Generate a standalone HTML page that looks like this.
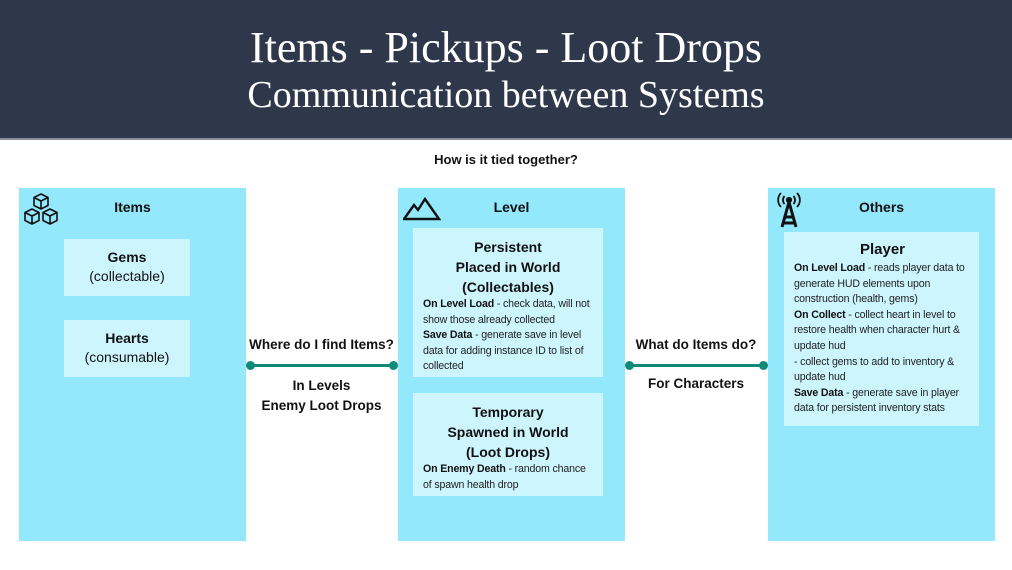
<!DOCTYPE html>
<html><head><meta charset="utf-8"><style>
*{margin:0;padding:0;box-sizing:border-box}
body{width:1012px;height:570px;position:relative;background:#fff;font-family:"Liberation Sans",Arial,sans-serif;color:#111;overflow:hidden}
.hdr{position:absolute;left:0;top:0;width:1012px;height:140px;background:#2f374a;border-bottom:2px solid #8a8f99}
.t1,.t2{position:absolute;left:0;width:1012px;text-align:center;color:#fff;font-family:"Liberation Serif",serif}
.t1{top:21px;font-size:44px;line-height:54px}
.t2{top:72px;font-size:38px;line-height:46px}
.a{position:absolute}
.panel{position:absolute;top:188px;width:227px;height:353px;background:#94e8fb}
.box{position:absolute;background:#cdf5fd}
.c{text-align:center}
.h{font-weight:bold;font-size:14px}
.s{font-size:10.6px;line-height:15.6px;color:#222;letter-spacing:-0.15px}
.s b{color:#111}
.line{position:absolute;height:3px;background:#0e8a79}
.dot{position:absolute;width:9px;height:9px;border-radius:50%;background:#0e8a79}
</style></head><body>
<div class="hdr"><div class="t1">Items - Pickups - Loot Drops</div><div class="t2">Communication between Systems</div></div>
<div class="a h c" style="left:0;width:1012px;top:152px;font-size:13px">How is it tied together?</div>

<div class="panel" style="left:19px"></div>
<div class="panel" style="left:398px"></div>
<div class="panel" style="left:768px"></div>

<svg class="a" style="left:23px;top:193px" width="36" height="34" viewBox="0 0 36 34" fill="none" stroke="#111" stroke-width="1.6" stroke-linejoin="round">
<path d="M18 1l7 3.5v8L18 16l-7-3.5v-8z M11 4.5l7 3.5 7-3.5 M18 8v8"/>
<path d="M9 16l7 3.5v8L9 31l-7-3.5v-8z M2 19.5l7 3.5 7-3.5 M9 23v8"/>
<path d="M27 16l7 3.5v8L27 31l-7-3.5v-8z M20 19.5l7 3.5 7-3.5 M27 23v8"/>
</svg>
<div class="a h c" style="left:19px;width:227px;top:199px">Items</div>
<div class="box c" style="left:64px;top:239px;width:126px;height:57px;padding-top:10px"><div class="h">Gems</div><div style="font-size:14px;margin-top:3px">(collectable)</div></div>
<div class="box c" style="left:64px;top:320px;width:126px;height:57px;padding-top:10px"><div class="h">Hearts</div><div style="font-size:14px;margin-top:3px">(consumable)</div></div>

<svg class="a" style="left:403px;top:197px" width="38" height="24" viewBox="0 0 38 24" fill="none" stroke="#111" stroke-width="2.4" stroke-linejoin="miter"><path d="M1 22L11 8l4 5 7-11 14 20z"/></svg>
<div class="a h c" style="left:398px;width:227px;top:199px">Level</div>
<div class="box" style="left:413px;top:228px;width:190px;height:149px;padding:9px 10px 0 10px">
<div class="h c" style="line-height:20px">Persistent<br>Placed in World<br>(Collectables)</div>
<div class="s"><b>On Level Load</b> - check data, will not show those already collected<br><b>Save Data</b> - generate save in level data for adding instance ID to list of collected</div></div>
<div class="box" style="left:413px;top:393px;width:190px;height:103px;padding:9px 10px 0 10px">
<div class="h c" style="line-height:20px">Temporary<br>Spawned in World<br>(Loot Drops)</div>
<div class="s"><b>On Enemy Death</b> - random chance of spawn health drop</div></div>

<svg class="a" style="left:775px;top:192px" width="28" height="36" viewBox="0 0 28 36" fill="none" stroke="#111" stroke-width="1.8">
<circle cx="14" cy="8" r="2.2" fill="#111"/><path d="M9.5 4a6 6 0 0 0 0 8M18.5 4a6 6 0 0 1 0 8M6 1a10 10 0 0 0 0 14M22 1a10 10 0 0 1 0 14"/>
<path d="M14 10L7 35M14 10l7 25M10 25h8M8 31h12" stroke-width="3"/></svg>
<div class="a h c" style="left:768px;width:227px;top:199px">Others</div>
<div class="box" style="left:784px;top:232px;width:195px;height:194px;padding:9px 8px 0 10px">
<div class="c" style="font-size:15px;font-weight:bold;line-height:18px;margin-bottom:2px">Player</div>
<div class="s"><b>On Level Load</b> - reads player data to generate HUD elements upon construction (health, gems)<br><b>On Collect</b> - collect heart in level to restore health when character hurt &amp; update hud<br>- collect gems to add to inventory &amp; update hud<br><b>Save Data</b> - generate save in player data for persistent inventory stats</div></div>

<div class="a h c" style="left:245px;width:153px;top:337px;font-size:13.5px">Where do I find Items?</div>
<div class="line" style="left:251px;top:364px;width:142px"></div>
<div class="dot" style="left:246px;top:361px"></div><div class="dot" style="left:389px;top:361px"></div>
<div class="a h c" style="left:245px;width:153px;top:376px;font-size:13.5px;line-height:20px">In Levels<br>Enemy Loot Drops</div>

<div class="a h c" style="left:624px;width:144px;top:337px;font-size:13.5px">What do Items do?</div>
<div class="line" style="left:630px;top:364px;width:133px"></div>
<div class="dot" style="left:625px;top:361px"></div><div class="dot" style="left:759px;top:361px"></div>
<div class="a h c" style="left:624px;width:144px;top:376px;font-size:13.5px">For Characters</div>
</body></html>
